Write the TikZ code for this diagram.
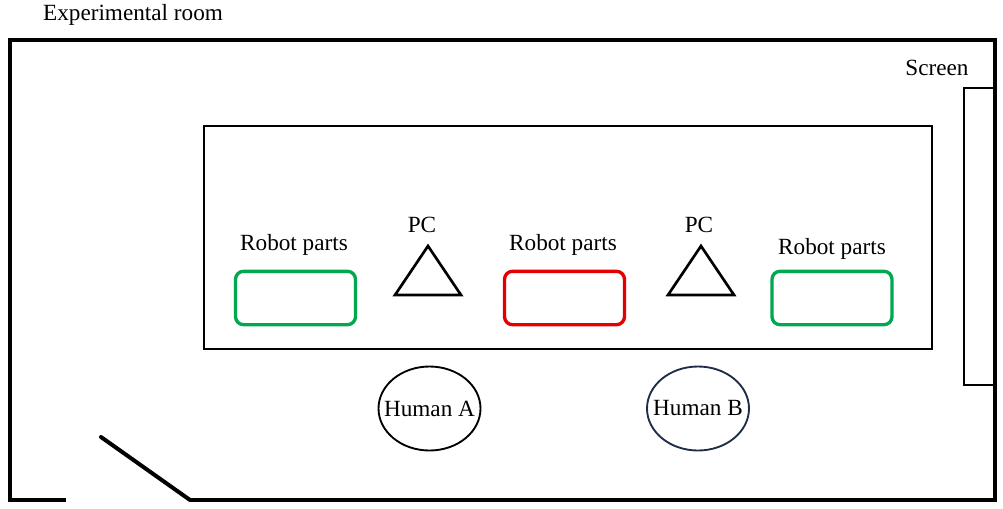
\documentclass[tikz,border=0pt]{standalone}
\usepackage{fontspec}
\setmainfont{Liberation Serif}
\usetikzlibrary{shapes.geometric}
\definecolor{partsgreen}{RGB}{0,168,80}
\definecolor{partsred}{RGB}{228,0,0}
\definecolor{humanblue}{RGB}{31,45,72}

\begin{document}
\begin{tikzpicture}[x=0.75pt,y=-0.75pt,line join=miter,font=\rmfamily\fontsize{17.4}{20}\selectfont,
    wall/.style={line width=3pt},
    parts/.style={draw, rounded corners=6pt, line width=2.5pt, minimum width=90pt, minimum height=40pt},
    pc/.style={line width=2pt},
    human/.style={draw, ellipse, inner sep=0pt, line width=1.4pt, minimum width=76.5pt, minimum height=63pt},
    txt/.style={anchor=base, inner sep=0pt}]
            \useasboundingbox (0,0) rectangle (1003,508);

            % draw the room walls and the door
            \draw[wall] (66,500) -- (10,500) -- (10,40) -- (995,40) -- (995,500) -- (190,500);
            \draw[wall, line cap=round] (101,437) -- (190,500);
            \node[txt] (room) at (133,20) {Experimental room};

            % draw the screen
            \draw[line width=1.6pt] (995,88) -- (964,88) -- (964,385) -- (995,385);
            \node[txt] (screen) at (937,75) {Screen};

            % draw the table
            \draw[line width=2pt] (204,126) rectangle (932,349);

            % robot parts
            \node[parts, draw=partsgreen] (partsA) at (295.5,298) {};
            \node[parts, draw=partsred] (partsB) at (564.5,298) {};
            \node[parts, draw=partsgreen] (partsC) at (832,298) {};
            \node[txt] (labA) at (294,250) {Robot parts};
            \node[txt] (labB) at (563,250) {Robot parts};
            \node[txt] (labC) at (832,254) {Robot parts};

            % PCs
            \draw[pc] (395,295) -- (428,246) -- (461,295) -- cycle;
            \draw[pc] (668,295) -- (701,246) -- (734,295) -- cycle;
            \node[txt] (pcA) at (422,232) {PC};
            \node[txt] (pcB) at (699,232) {PC};

            % humans
            \node[human] (humA) at (429.5,408.5) {};
            \node[human, draw=humanblue] (humB) at (698,408.5) {};
            \node (nameA) at (humA) {Human A};
            \node (nameB) at (humB) {Human B};

        \end{tikzpicture}
\end{document}
